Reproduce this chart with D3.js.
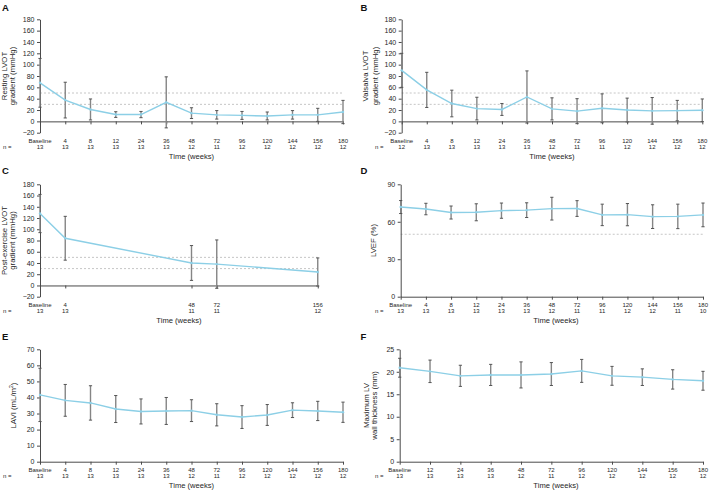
<!DOCTYPE html>
<html>
<head>
<meta charset="utf-8">
<script src="https://cdn.jsdelivr.net/npm/d3@7"></script>
<style>
  html, body { margin: 0; padding: 0; background: #fff; }
  svg { display: block; font-family: "Liberation Sans", Arial, "DejaVu Sans", sans-serif; }
</style>
</head>
<body>
<svg id="chart" width="709" height="490"></svg>
<script>
// ---------- DATA ----------
const weeksFull = ["Baseline","4","8","12","24","36","48","72","96","120","144","156","180"];
const weeksC = ["Baseline","4","48","72","156"];
const weeksF = ["Baseline","12","24","36","48","72","96","120","144","156","180"];

// A: Resting LVOT gradient (mmHg)
const restingMean = [68, 37.5, 21, 12, 12, 33.5, 14.5, 11.5, 10.5, 9.5, 11.5, 11.5, 16.5];
const restingSD   = [43, 31.5, 18.5, 5, 5.5, 45, 9.5, 7.5, 7, 7, 7.5, 11.5, 20.5];
const restingN    = [13,13,13,13,13,13,12,11,12,12,12,12,12];

// B: Valsalva LVOT gradient (mmHg)
const valsalvaMean = [90, 55.5, 31.5, 22.5, 21, 43, 22, 18, 23, 20, 18.5, 19, 19.5];
const valsalvaSD   = [30, 31, 23.5, 20, 10.5, 46, 19.5, 22, 25.5, 21, 23.5, 18, 20];
const valsalvaN    = [12,13,13,13,13,13,12,11,11,12,12,12,12];

// C: Post-exercise LVOT gradient (mmHg)
const exerciseMean = [128, 84, 40, 38, 24];
const exerciseSD   = [34, 39, 31, 43, 25];
const exerciseN    = [13,13,11,11,12];

// D: LVEF (%)
const lvefMean = [71.8, 70.2, 67.4, 67.6, 68.9, 69.3, 70.5, 70.6, 65.5, 65.7, 64.1, 64.3, 65.5];
const lvefSD   = [5.2, 4.6, 5.2, 6.8, 6.1, 5.9, 9.1, 6.3, 8.6, 8.9, 9.5, 9.8, 9.5];
const lvefN    = [13,13,13,13,13,13,12,11,11,12,12,11,10];

// E: LAVI (mL/m²)
const laviMean = [41.6, 38.2, 36.6, 32.8, 31.3, 31.6, 31.8, 29.2, 27.8, 29.1, 32.1, 31.6, 30.8];
const laviSD   = [16.6, 9.9, 10.7, 8.4, 7.8, 8.4, 6.8, 6.9, 7.1, 6.5, 4.6, 6.0, 6.3];
const laviN    = [13,13,13,13,13,13,12,11,12,12,12,12,12];

// F: Maximum LV wall thickness (mm)
const wallMean = [20.9, 20.1, 19.1, 19.3, 19.3, 19.5, 20.2, 19.1, 18.8, 18.3, 18.0];
const wallSD   = [2.1, 2.5, 2.35, 2.35, 2.9, 2.55, 2.55, 2.1, 1.85, 2.15, 2.1];
const wallN    = [13,13,13,13,12,11,12,12,12,12,12];

const ticksGradient = [-20,0,20,40,60,80,100,120,140,160,180];
const ticksLvef = [0,30,60,90];
const ticksLavi = [0,10,20,30,40,50,60,70];
const ticksWall = [0,5,10,15,20,25];

// ---------- STYLE ----------
const LINE_COLOR = "#8ccfe6";
const BAR_COLOR = "#858585";
const AXIS_COLOR = "#4a4a4a";
const TEXT_COLOR = "#262626";
const DASH_COLOR = "#c6c6c6";

const svg = d3.select("#chart");

function panel(cfg) {
  const g = svg.append("g");
  const x = d3.scalePoint().domain(cfg.domain).range([cfg.x0, cfg.x1]);
  const y = d3.scaleLinear().domain(cfg.yDomain).range([cfg.yBottom, cfg.yTop]);

  // reference dashed lines
  (cfg.refs || []).forEach(r => {
    g.append("line")
      .attr("x1", cfg.x0).attr("x2", cfg.x1)
      .attr("y1", y(r)).attr("y2", y(r))
      .attr("stroke", DASH_COLOR).attr("stroke-width", 1)
      .attr("stroke-dasharray", "2,2");
  });

  // y axis
  const ya = g.append("g")
    .attr("transform", `translate(${cfg.x0},0)`)
    .call(d3.axisLeft(y).tickValues(cfg.yTicks).tickSize(3).tickPadding(2.5).tickSizeOuter(0));
  ya.select(".domain").attr("stroke", AXIS_COLOR);
  ya.selectAll(".tick line").attr("stroke", AXIS_COLOR);
  ya.selectAll(".tick text").attr("fill", TEXT_COLOR).style("font-size", "7px")
    .style("font-family", "'Liberation Sans', Arial, sans-serif");

  // x axis at zero
  const xa = g.append("g")
    .attr("transform", `translate(0,${y(0)})`)
    .call(d3.axisBottom(x).tickValues(cfg.cats).tickSize(3).tickSizeOuter(0).tickFormat(""));
  xa.select(".domain").attr("stroke", AXIS_COLOR);
  xa.selectAll(".tick line").attr("stroke", AXIS_COLOR);

  // error bars
  const bars = g.append("g");
  cfg.cats.forEach((c, i) => {
    const cx = x(c);
    const lo = y(cfg.mean[i] - cfg.sd[i]);
    const hi = y(cfg.mean[i] + cfg.sd[i]);
    bars.append("line").attr("x1", cx).attr("x2", cx).attr("y1", lo).attr("y2", hi)
      .attr("stroke", BAR_COLOR).attr("stroke-width", 1.4);
    [lo, hi].forEach(v => {
      bars.append("line").attr("x1", cx - 1.6).attr("x2", cx + 1.6).attr("y1", v).attr("y2", v)
        .attr("stroke", "#555").attr("stroke-width", 1);
    });
  });

  // mean line
  const line = d3.line().x((d, i) => x(cfg.cats[i])).y(d => y(d));
  g.append("path").datum(cfg.mean).attr("d", line)
    .attr("fill", "none").attr("stroke", LINE_COLOR).attr("stroke-width", 1.4);
  g.selectAll("circle.pt").data(cfg.mean).enter().append("circle")
    .attr("cx", (d, i) => x(cfg.cats[i])).attr("cy", d => y(d)).attr("r", 1.2)
    .attr("fill", LINE_COLOR);

  // x labels (weeks + n)
  const labY1 = cfg.yBottom + 9.8;
  const labY2 = cfg.yBottom + 16;
  cfg.cats.forEach((c, i) => {
    g.append("text").attr("x", x(c)).attr("y", labY1).attr("text-anchor", "middle")
      .attr("fill", TEXT_COLOR).style("font-size", "6px").text(c);
    g.append("text").attr("x", x(c)).attr("y", labY2).attr("text-anchor", "middle")
      .attr("fill", TEXT_COLOR).style("font-size", "6px").text(cfg.n[i]);
  });
  g.append("text").attr("x", cfg.nX).attr("y", labY2).attr("fill", TEXT_COLOR)
    .style("font-size", "6px").text("n =");

  // x title
  g.append("text").attr("x", cfg.titleX).attr("y", cfg.yBottom + 26)
    .attr("text-anchor", "middle").attr("fill", TEXT_COLOR).style("font-size", "7.6px")
    .text("Time (weeks)");

  // y title
  const cy = (cfg.yTop + cfg.yBottom) / 2;
  cfg.yTitle.forEach((t, k) => {
    const tx = cfg.yTitleX[k];
    const txt = g.append("text")
      .attr("transform", `translate(${tx},${cy}) rotate(-90)`)
      .attr("text-anchor", "middle").attr("dy", "0.35em")
      .attr("fill", TEXT_COLOR).style("font-size", "7.8px");
    if (Array.isArray(t)) {
      txt.append("tspan").text(t[0]);
      txt.append("tspan").attr("baseline-shift", "super").style("font-size", "5px").text(t[1]);
      txt.append("tspan").text(t[2]);
    } else {
      txt.text(t);
    }
  });

  // panel letter
  g.append("text").attr("x", cfg.letterX).attr("y", cfg.letterY)
    .attr("fill", "#111").style("font-size", "9.5px").style("font-weight", "bold")
    .text(cfg.letter);
}

panel({
  letter: "A", letterX: 2, letterY: 10.8,
  domain: weeksFull, cats: weeksFull, mean: restingMean, sd: restingSD, n: restingN,
  x0: 40, x1: 343, yDomain: [-20, 180], yTop: 19.3, yBottom: 132.7, yTicks: ticksGradient,
  refs: [30, 50], nX: 3, titleX: 191.5,
  yTitle: ["Resting LVOT", "gradient (mmHg)"], yTitleX: [4.5, 12.7]
});

panel({
  letter: "B", letterX: 360.5, letterY: 10.8,
  domain: weeksFull, cats: weeksFull, mean: valsalvaMean, sd: valsalvaSD, n: valsalvaN,
  x0: 401.7, x1: 702.3, yDomain: [-20, 180], yTop: 19.3, yBottom: 132.7, yTicks: ticksGradient,
  refs: [30, 50], nX: 375, titleX: 552,
  yTitle: ["Valsalva LVOT", "gradient (mmHg)"], yTitleX: [365.5, 375.5]
});

panel({
  letter: "C", letterX: 2, letterY: 173.5,
  domain: weeksFull.slice(0, 12), cats: weeksC, mean: exerciseMean, sd: exerciseSD, n: exerciseN,
  x0: 40, x1: 317.75, yDomain: [-20, 180], yTop: 184.3, yBottom: 296.7, yTicks: ticksGradient,
  refs: [30, 50], nX: 3, titleX: 179,
  yTitle: ["Post-exercise LVOT", "gradient (mmHg)"], yTitleX: [4.5, 12.7]
});

panel({
  letter: "D", letterX: 360.5, letterY: 174,
  domain: weeksFull, cats: weeksFull, mean: lvefMean, sd: lvefSD, n: lvefN,
  x0: 400.7, x1: 703, yDomain: [0, 90], yTop: 184.3, yBottom: 296.7, yTicks: ticksLvef,
  refs: [50], nX: 375, titleX: 556,
  yTitle: ["LVEF (%)"], yTitleX: [373.7]
});

panel({
  letter: "E", letterX: 2, letterY: 339.7,
  domain: weeksFull, cats: weeksFull, mean: laviMean, sd: laviSD, n: laviN,
  x0: 40, x1: 343, yDomain: [0, 70], yTop: 349.3, yBottom: 461.7, yTicks: ticksLavi,
  refs: [], nX: 3, titleX: 191.5,
  yTitle: [["LAVI (mL/m", "2", ")"]], yTitleX: [13.3]
});

panel({
  letter: "F", letterX: 360.5, letterY: 340,
  domain: weeksF, cats: weeksF, mean: wallMean, sd: wallSD, n: wallN,
  x0: 399.7, x1: 703, yDomain: [0, 25], yTop: 349.3, yBottom: 461.7, yTicks: ticksWall,
  refs: [], nX: 375, titleX: 556,
  yTitle: ["Maximum LV", "wall thickness (mm)"], yTitleX: [366, 374]
});
</script>
</body>
</html>
